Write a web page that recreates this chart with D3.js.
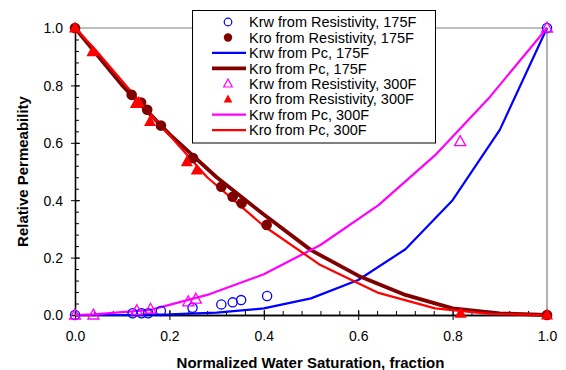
<!DOCTYPE html>
<html><head><meta charset="utf-8">
<script src="https://cdn.jsdelivr.net/npm/d3@7"></script>
<style>body{margin:0;background:#fff}svg{display:block;font-family:Arial,"Liberation Sans",sans-serif}</style>
</head><body><svg id="c" width="566" height="370"></svg>
<script>
// ---- data ----
const krwRes175X = [0, 0.122, 0.141, 0.155, 0.182, 0.249, 0.31, 0.334, 0.352, 0.407, 1.0];
const krwRes175Y = [0, 0.006, 0.006, 0.006, 0.014, 0.025, 0.037, 0.044, 0.052, 0.066, 1.0];
const kroRes175X = [0, 0.12, 0.14, 0.153, 0.182, 0.25, 0.31, 0.334, 0.353, 0.406, 1.0];
const kroRes175Y = [1.0, 0.767, 0.74, 0.715, 0.66, 0.547, 0.447, 0.412, 0.389, 0.314, 0.0];
const krwPc175X = [0, 0.1, 0.2, 0.3, 0.4, 0.5, 0.6, 0.7, 0.8, 0.9, 1.0];
const krwPc175Y = [0, 0.0, 0.002, 0.008, 0.023, 0.058, 0.122, 0.229, 0.40, 0.645, 1.0];
const kroPc175X = [0, 0.1, 0.2, 0.3, 0.4, 0.5, 0.6, 0.7, 0.8, 0.9, 1.0];
const kroPc175Y = [1.0, 0.80, 0.63, 0.48, 0.35, 0.226, 0.137, 0.07, 0.023, 0.006, 0.0];
const krwRes300X = [0, 0.039, 0.131, 0.16, 0.24, 0.256, 0.816, 1.0];
const krwRes300Y = [0, 0.0, 0.015, 0.02, 0.046, 0.055, 0.604, 1.0];
const kroRes300X = [0, 0.037, 0.129, 0.135, 0.159, 0.237, 0.258, 0.817, 1.0];
const kroRes300Y = [1.0, 0.917, 0.737, 0.74, 0.674, 0.534, 0.505, 0.006, 0.0];
const krwPc300X = [0, 0.04, 0.16, 0.28, 0.40, 0.52, 0.643, 0.763, 0.879, 1.0];
const krwPc300Y = [0, 0.002, 0.018, 0.07, 0.142, 0.244, 0.383, 0.557, 0.76, 1.0];
const kroPc300X = [0, 0.04, 0.16, 0.28, 0.40, 0.52, 0.643, 0.763, 0.879, 1.0];
const kroPc300Y = [1.0, 0.93, 0.70, 0.48, 0.31, 0.174, 0.077, 0.023, 0.004, 0.0];
const xTicks = [0, 0.2, 0.4, 0.6, 0.8, 1.0];
const yTicks = [0, 0.2, 0.4, 0.6, 0.8, 1.0];
const minorTicks = d3.range(0, 1.0001, 0.04);
const legendLabels = ["Krw from Resistivity, 175F","Kro from Resistivity, 175F","Krw from Pc, 175F","Kro from Pc, 175F",
  "Krw from Resistivity, 300F","Kro from Resistivity, 300F","Krw from Pc, 300F","Kro from Pc, 300F"];
const xTitle = "Normalized Water Saturation, fraction";
const yTitle = "Relative Permeability";

const svg = d3.select("#c");
const L = 75, R = 547, T = 28, B = 315;
const x = d3.scaleLinear().domain([0, 1]).range([L, R]);
const y = d3.scaleLinear().domain([0, 1]).range([B, T]);

// frame (top/right gray)
svg.append("path").attr("d", `M${L},${T}H${R}V${B}`).attr("fill","none").attr("stroke","#808080").attr("stroke-width",1.2);

// minor ticks
const gxm = svg.append("g").attr("transform",`translate(0,${B})`)
  .call(d3.axisBottom(x).tickValues(minorTicks).tickSize(-4).tickFormat(""));
const gym = svg.append("g").attr("transform",`translate(${L},0)`)
  .call(d3.axisLeft(y).tickValues(minorTicks).tickSize(-4).tickFormat(""));
// major axes
const gx = svg.append("g").attr("transform",`translate(0,${B})`)
  .call(d3.axisBottom(x).tickValues(xTicks).tickSize(5).tickPadding(11).tickFormat(d3.format(".1f")));
const gy = svg.append("g").attr("transform",`translate(${L},0)`)
  .call(d3.axisLeft(y).tickValues(yTicks).tickSize(4).tickPadding(8).tickFormat(d3.format(".1f")));
gx.selectAll(".tick line").attr("y1", -5);
gy.selectAll(".tick line").attr("x1", 5);
[gxm, gym, gx, gy].forEach(g => {
  g.select(".domain").attr("stroke","#000").attr("stroke-width",1.3);
  g.selectAll(".tick line").attr("stroke","#000").attr("stroke-width",1);
  g.selectAll("text").attr("font-size",14).attr("font-family","Arial, 'Liberation Sans', sans-serif").attr("fill","#000");
});
gx.selectAll("text").attr("dy","0.71em");
gy.selectAll("text").attr("dy","0.35em");

// titles
svg.append("text").attr("x", (L+R)/2 - 0.5).attr("y", 368).attr("text-anchor","middle")
  .attr("font-size",15).attr("font-weight","bold").text(xTitle);
svg.append("text").attr("transform",`translate(28,${(T+B)/2}) rotate(-90)`).attr("text-anchor","middle")
  .attr("font-size",15).attr("font-weight","bold").text(yTitle);

const pts = (xs, ys) => xs.map((v, i) => [v, ys[i]]);
const line = d3.line().x(d => x(d[0])).y(d => y(d[1]));
const plot = svg.append("g");

// lines
const lines = [
  {d: pts(krwPc175X, krwPc175Y), c: "#0000ff", w: 2.2},
  {d: pts(kroPc175X, kroPc175Y), c: "#800000", w: 3.8},
  {d: pts(krwPc300X, krwPc300Y), c: "#ff00ff", w: 2.2},
  {d: pts(kroPc300X, kroPc300Y), c: "#ff0000", w: 2.2},
];
lines.forEach(s => plot.append("path").attr("d", line(s.d)).attr("fill","none")
  .attr("stroke", s.c).attr("stroke-width", s.w).attr("stroke-linejoin","round"));

const tri = (hw, h) => `M0,${-h*0.6}L${hw},${h*0.4}L${-hw},${h*0.4}Z`;

// markers
plot.append("g").selectAll("circle").data(pts(krwRes175X, krwRes175Y)).join("circle")
  .attr("cx", d => x(d[0])).attr("cy", d => y(d[1])).attr("r", 4.6)
  .attr("fill","none").attr("stroke","#0000ff").attr("stroke-width",1.3);
plot.append("g").selectAll("circle").data(pts(kroRes175X, kroRes175Y)).join("circle")
  .attr("cx", d => x(d[0])).attr("cy", d => y(d[1])).attr("r", 5.3)
  .attr("fill","#800000");
plot.append("g").selectAll("path").data(pts(krwRes300X, krwRes300Y)).join("path")
  .attr("transform", d => `translate(${x(d[0])},${y(d[1])})`).attr("d", tri(5.5, 10))
  .attr("fill","none").attr("stroke","#ff00ff").attr("stroke-width",1.3);
plot.append("g").selectAll("path").data(pts(kroRes300X, kroRes300Y)).join("path")
  .attr("transform", d => `translate(${x(d[0])},${y(d[1])})`).attr("d", tri(6, 11))
  .attr("fill","#ff0000");

// legend
const lg = svg.append("g");
lg.append("rect").attr("x",192.5).attr("y",10.5).attr("width",243).attr("height",132.5)
  .attr("fill","#fff").attr("stroke","#000").attr("stroke-width",1);
const rowY = i => 22 + i * 15.45;
const kinds = [
  {t:"c", c:"#0000ff", fill:false}, {t:"c", c:"#800000", fill:true},
  {t:"l", c:"#0000ff", w:2.2}, {t:"l", c:"#800000", w:3.8},
  {t:"t", c:"#ff00ff", fill:false}, {t:"t", c:"#ff0000", fill:true},
  {t:"l", c:"#ff00ff", w:2.2}, {t:"l", c:"#ff0000", w:2.2},
];
legendLabels.forEach((lab, i) => {
  const k = kinds[i], cy = rowY(i);
  if (k.t === "c") lg.append("circle").attr("cx",228).attr("cy",cy).attr("r", k.fill ? 4.2 : 3.8)
      .attr("fill", k.fill ? k.c : "none").attr("stroke", k.c).attr("stroke-width", k.fill ? 0 : 1.2);
  else if (k.t === "t") lg.append("path").attr("transform",`translate(228,${cy})`).attr("d", tri(4.3, 8))
      .attr("fill", k.fill ? k.c : "none").attr("stroke", k.c).attr("stroke-width", k.fill ? 0 : 1.2);
  else lg.append("line").attr("x1",212).attr("x2",246).attr("y1",cy).attr("y2",cy)
      .attr("stroke", k.c).attr("stroke-width", k.w);
  lg.append("text").attr("x",249).attr("y",cy).attr("dy","0.36em").attr("font-size",14.5).text(lab);
});
</script></body></html>
